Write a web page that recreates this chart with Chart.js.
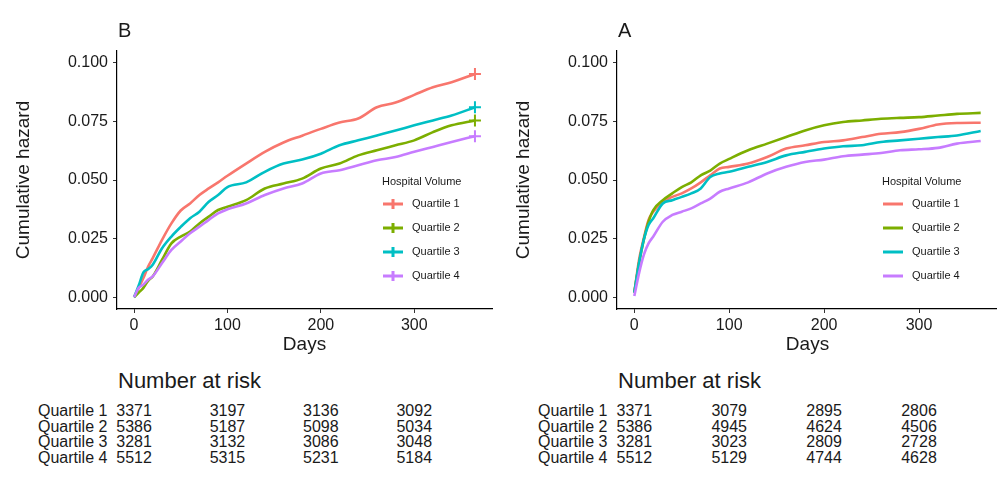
<!DOCTYPE html>
<html>
<head>
<meta charset="utf-8">
<script src="https://cdn.jsdelivr.net/npm/chart.js@4.4.0/dist/chart.umd.min.js"></script>
<style>
  body { margin: 0; width: 997px; height: 477px; overflow: hidden; background: #fff;
         font-family: "Liberation Sans", Arial, sans-serif; color: #1a1a1a; position: relative; }
  .panel { position: absolute; top: 0; width: 500px; height: 477px; }
  .panel canvas { position: absolute; left: 0; top: 0; }
  .tag { position: absolute; left: 118px; top: 20px; font-size: 20px; line-height: 20px; }
  .risk-title { position: absolute; left: 118px; top: 370px; font-size: 22px; line-height: 22px; }
  .cell { position: absolute; font-size: 16px; line-height: 16px; white-space: nowrap; }
</style>
</head>
<body>
<div class="panel" id="panelB" style="left:0">
  <canvas id="chart0" width="500" height="360"></canvas>
  <div class="tag">B</div>
  <div class="risk-title">Number at risk</div>
</div>
<div class="panel" id="panelA" style="left:500px">
  <canvas id="chart1" width="500" height="360"></canvas>
  <div class="tag">A</div>
  <div class="risk-title">Number at risk</div>
</div>
<script>
const days = [0, 5, 10, 15, 20, 30, 40, 50, 60, 70, 80, 90, 100, 120, 140, 160, 180, 200, 220, 240, 260, 280, 300, 320, 340, 365];

const groups = ["Quartile 1", "Quartile 2", "Quartile 3", "Quartile 4"];
const colors = ["#F8766D", "#7CAE00", "#00BFC4", "#C77CFF"];

// panel B
const b_q1 = [0, 0.004, 0.0082, 0.013, 0.0167, 0.0245, 0.0315, 0.037, 0.040, 0.0436, 0.0464, 0.049, 0.0518, 0.057, 0.062, 0.066, 0.0689, 0.0718, 0.0745, 0.0762, 0.081, 0.083, 0.0863, 0.0895, 0.0917, 0.0952];
const b_q2 = [0, 0.002, 0.004, 0.007, 0.0089, 0.016, 0.023, 0.0259, 0.028, 0.0315, 0.0344, 0.0372, 0.0386, 0.0414, 0.0464, 0.0485, 0.0506, 0.0549, 0.057, 0.0605, 0.0627, 0.0648, 0.0669, 0.0704, 0.0733, 0.0754];
const b_q3 = [0, 0.005, 0.0106, 0.012, 0.0139, 0.0209, 0.0259, 0.030, 0.0337, 0.0365, 0.0407, 0.0436, 0.047, 0.049, 0.0535, 0.057, 0.0587, 0.0612, 0.0648, 0.0669, 0.069, 0.0711, 0.0733, 0.0754, 0.0775, 0.081];
const b_q4 = [0, 0.004, 0.0054, 0.0075, 0.0089, 0.0146, 0.0202, 0.0238, 0.0273, 0.0301, 0.033, 0.0358, 0.0375, 0.040, 0.0436, 0.0464, 0.0485, 0.0528, 0.0542, 0.0563, 0.0584, 0.0598, 0.062, 0.0641, 0.0662, 0.0687];

// panel A
const a_q1 = [0.002, 0.016, 0.0252, 0.033, 0.0365, 0.0407, 0.0428, 0.0443, 0.0464, 0.049, 0.052, 0.0549, 0.0556, 0.057, 0.0598, 0.0634, 0.0648, 0.0662, 0.0669, 0.0683, 0.0697, 0.0704, 0.0718, 0.0737, 0.0743, 0.0744];
const a_q2 = [0.002, 0.0146, 0.0245, 0.0322, 0.0372, 0.0414, 0.0443, 0.047, 0.049, 0.052, 0.054, 0.057, 0.059, 0.0627, 0.0655, 0.0683, 0.0711, 0.0733, 0.0747, 0.0754, 0.0761, 0.0765, 0.0768, 0.0775, 0.0782, 0.0786];
const a_q3 = [0.002, 0.0146, 0.0245, 0.0308, 0.0337, 0.040, 0.0414, 0.0428, 0.0443, 0.0464, 0.0513, 0.0528, 0.0535, 0.0556, 0.0577, 0.0605, 0.062, 0.0634, 0.0644, 0.0648, 0.0662, 0.0669, 0.0676, 0.0683, 0.069, 0.0709];
const a_q4 = [0.0005, 0.0103, 0.0181, 0.023, 0.0259, 0.0322, 0.0351, 0.0365, 0.0379, 0.040, 0.0421, 0.045, 0.0464, 0.049, 0.0528, 0.0556, 0.0577, 0.0587, 0.0601, 0.0608, 0.0615, 0.0627, 0.0631, 0.0637, 0.0655, 0.0666];

const xTicks = [0, 100, 200, 300];
const yTicks = [0, 0.025, 0.05, 0.075, 0.1];

// number at risk table
const riskDays = [0, 100, 200, 300];
const riskB = [[3371, 3197, 3136, 3092], [5386, 5187, 5098, 5034], [3281, 3132, 3086, 3048], [5512, 5315, 5231, 5184]];
const riskA = [[3371, 3079, 2895, 2806], [5386, 4945, 4624, 4506], [3281, 3023, 2809, 2728], [5512, 5129, 4744, 4628]];

const FONT = '"Liberation Sans", Arial, sans-serif';
const INK = '#1a1a1a';

// legend drawn inside the plot area
const insideLegend = {
    id: 'insideLegend',
    afterDraw(chart, args, opts) {
        const ctx = chart.ctx;
        ctx.save();
        ctx.font = '11px ' + FONT;
        ctx.fillStyle = INK;
        ctx.textBaseline = 'middle';
        ctx.fillText('Hospital Volume', opts.x, opts.y);
        chart.data.datasets.forEach((ds, i) => {
            const y = opts.y + 22 + i * 24;
            ctx.strokeStyle = ds.borderColor;
            ctx.lineWidth = 3;
            ctx.beginPath();
            ctx.moveTo(opts.x + 1, y);
            ctx.lineTo(opts.x + 21, y);
            if (opts.cross) {
                ctx.moveTo(opts.x + 11, y - 5);
                ctx.lineTo(opts.x + 11, y + 5);
            }
            ctx.stroke();
            ctx.fillStyle = INK;
            ctx.fillText(ds.label, opts.x + 30, y);
        });
        ctx.restore();
    }
};

function makeChart(canvasId, series, cross) {
    const ctx = document.getElementById(canvasId).getContext('2d');
    const datasets = series.map((vals, i) => ({
        label: groups[i],
        data: days.map((d, k) => ({x: d, y: vals[k]})),
        borderColor: colors[i],
        backgroundColor: colors[i],
        borderWidth: 2.6,
        cubicInterpolationMode: 'monotone',
        order: 4 - i,
        pointStyle: 'cross',
        pointBorderWidth: 2,
        pointRadius: cross ? days.map((d, k) => k === days.length - 1 ? 6 : 0) : 0
    }));
    return new Chart(ctx, {
        type: 'line',
        data: {datasets: datasets},
        plugins: [insideLegend],
        options: {
            responsive: false,
            animation: false,
            layout: {padding: {top: 51, right: 2, left: 0, bottom: 0}},
            plugins: {
                legend: {display: false},
                tooltip: {enabled: false},
                insideLegend: {x: 382, y: 182, cross: cross}
            },
            scales: {
                x: {
                    type: 'linear',
                    min: -18.25, max: 383.25,
                    afterBuildTicks: s => { s.ticks = xTicks.map(v => ({value: v})); },
                    afterFit: s => { s.height = 51; },
                    grid: {drawOnChartArea: false, tickLength: 4, color: '#333', tickWidth: 1},
                    border: {color: '#000', width: 1.2},
                    ticks: {color: INK, font: {family: FONT, size: 16}, padding: 3, maxRotation: 0},
                    title: {display: true, text: 'Days', color: INK, font: {family: FONT, size: 19}, padding: {top: 0, bottom: 4}}
                },
                y: {
                    min: -0.005, max: 0.105,
                    afterBuildTicks: s => { s.ticks = yTicks.map(v => ({value: v})); },
                    afterFit: s => { s.width = 117; },
                    grid: {drawOnChartArea: false, tickLength: 4, color: '#333', tickWidth: 1},
                    border: {color: '#000', width: 1.2},
                    ticks: {color: INK, font: {family: FONT, size: 16}, padding: 5, callback: v => v.toFixed(3)},
                    title: {display: true, text: 'Cumulative hazard', color: INK, font: {family: FONT, size: 19}, padding: {top: 12, bottom: 0}}
                }
            }
        }
    });
}

function riskTable(panelId, chart, table) {
    const panel = document.getElementById(panelId);
    table.forEach((row, i) => {
        const top = 403 + i * 15.7;
        const name = document.createElement('div');
        name.className = 'cell';
        name.style.left = '38px';
        name.style.top = top + 'px';
        name.textContent = groups[i];
        panel.appendChild(name);
        row.forEach((n, j) => {
            const cell = document.createElement('div');
            cell.className = 'cell';
            cell.style.left = chart.scales.x.getPixelForValue(riskDays[j]) + 'px';
            cell.style.top = top + 'px';
            cell.style.transform = 'translateX(-50%)';
            cell.textContent = n;
            panel.appendChild(cell);
        });
    });
}

let chartB = makeChart('chart0', [b_q1, b_q2, b_q3, b_q4], true);
let chartA = makeChart('chart1', [a_q1, a_q2, a_q3, a_q4], false);
riskTable('panelB', chartB, riskB);
riskTable('panelA', chartA, riskA);
</script>
</body>
</html>
